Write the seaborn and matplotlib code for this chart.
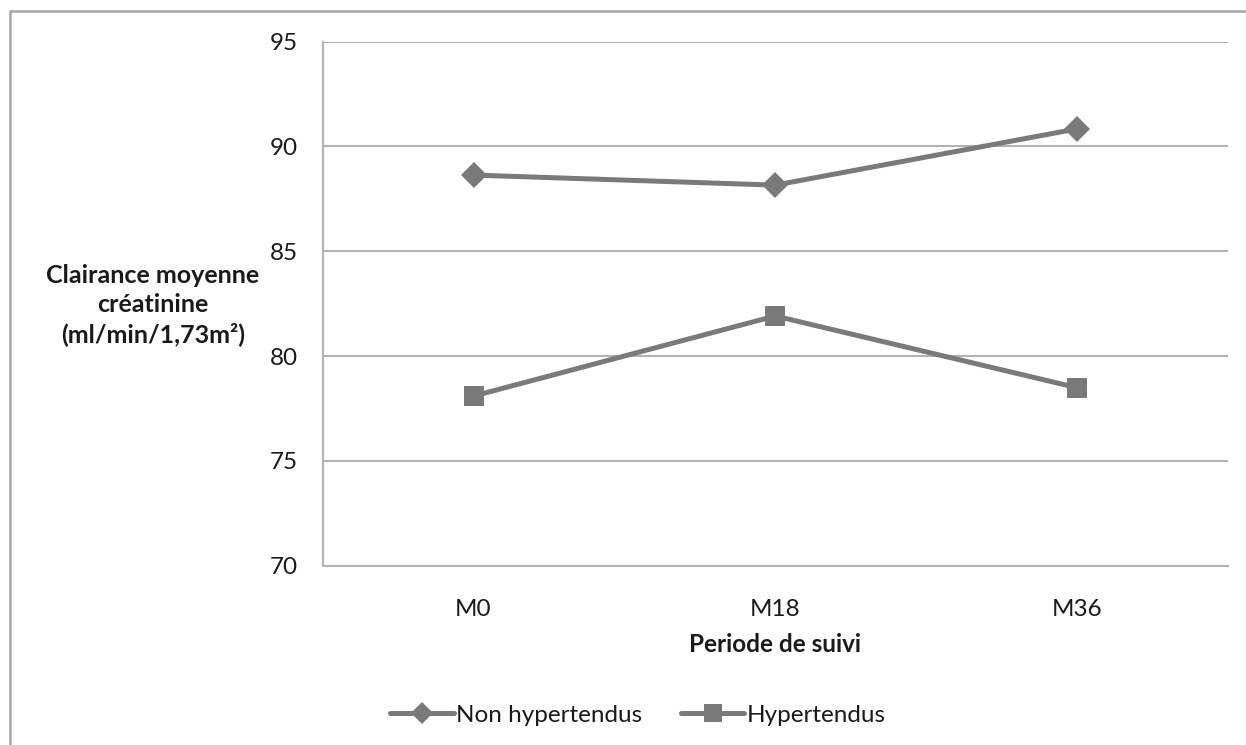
import matplotlib
matplotlib.use("Agg")
import matplotlib.pyplot as plt
from matplotlib.patches import Rectangle
from matplotlib.lines import Line2D
import seaborn as sns
import pandas as pd

periods = ["M0", "M18", "M36"]
non_hypertendus = [88.63, 88.15, 90.83]
hypertendus = [78.09, 81.91, 78.49]
series_names = ["Non hypertendus", "Hypertendus"]
y_ticks = [70, 75, 80, 85, 90, 95]

df = pd.DataFrame({
    "periode": periods * 2,
    "clairance": non_hypertendus + hypertendus,
    "groupe": [series_names[0]] * 3 + [series_names[1]] * 3,
})

sns.set_theme(style="white")
plt.rcParams["font.family"] = ["Lato", "DejaVu Sans"]

W, H = 1246, 745
fig = plt.figure(figsize=(W / 100, H / 100), dpi=100)
ax = fig.add_axes([322.7 / W, 1 - 565.7 / H, (1227.7 - 322.7) / W, (565.7 - 41.5) / H])

line_col = "#7a7a7a"
grid_col = "#b3b3b3"
text_col = "#1a1a1a"

sns.lineplot(
    data=df, x="periode", y="clairance", hue="groupe", style="groupe",
    markers={series_names[0]: "D", series_names[1]: "s"}, dashes=False,
    palette={series_names[0]: line_col, series_names[1]: line_col},
    linewidth=3.6, markersize=14.5, markeredgewidth=0, ax=ax, legend=False,
)
# the diamonds are drawn slightly smaller than the squares
ax.lines[0].set_markersize(13.5)

ax.set_xlim(-0.5, 2.5)
ax.set_ylim(70, 95)
ax.set_yticks(y_ticks)
ax.set_yticklabels([str(v) for v in y_ticks], fontsize=17.5, color=text_col)
ax.yaxis.grid(True, color=grid_col, linewidth=1.5)
ax.set_axisbelow(True)

# category boundaries carry the tick marks, labels sit at the centres
ax.set_xticks([-0.5, 0.5, 1.5, 2.5])
ax.set_xticklabels([])
ax.set_xticks([0, 1, 2], minor=True)
ax.set_xticklabels(periods, minor=True, fontsize=17.5, color=text_col)
ax.tick_params(axis="x", which="major", length=7, width=1.5, color=grid_col, direction="out")
ax.tick_params(axis="x", which="minor", length=0, pad=24)
ax.tick_params(axis="y", length=8, width=1.5, color=grid_col, direction="out", pad=10)

for side in ["top", "right"]:
    ax.spines[side].set_visible(False)
for side in ["left", "bottom"]:
    ax.spines[side].set_color(grid_col)
    ax.spines[side].set_linewidth(1.5)

ax.set_xlabel("")
ax.set_ylabel("")
fig.text(775 / W, 1 - 645 / H, "Periode de suivi", ha="center", va="center",
         fontsize=17.5, fontweight="bold", color=text_col)
fig.text(153 / W, 1 - 305 / H, "Clairance moyenne\ncréatinine\n(ml/min/1,73m²)",
         ha="center", va="center", multialignment="center", linespacing=1.3,
         fontsize=18, fontweight="bold", color=text_col)

# legend
handles = [
    Line2D([], [], color=line_col, lw=3.6, marker="D", markersize=11, markeredgewidth=0),
    Line2D([], [], color=line_col, lw=3.6, marker="s", markersize=12.5, markeredgewidth=0),
]
fig.legend(handles, series_names, loc="center", bbox_to_anchor=(638 / W, 1 - 715 / H),
           ncol=2, frameon=False, fontsize=17.5, handlelength=2.6, handletextpad=0.1,
           columnspacing=1.6, labelcolor=text_col)

# chart area border
fig.patches.append(Rectangle((10 / W, -0.2), 1.2, 1.2 - 11 / H, transform=fig.transFigure,
                             fill=False, edgecolor="#a6a6a6", linewidth=1.8, clip_on=False))

fig.savefig("out.png", dpi=100, facecolor="white")
